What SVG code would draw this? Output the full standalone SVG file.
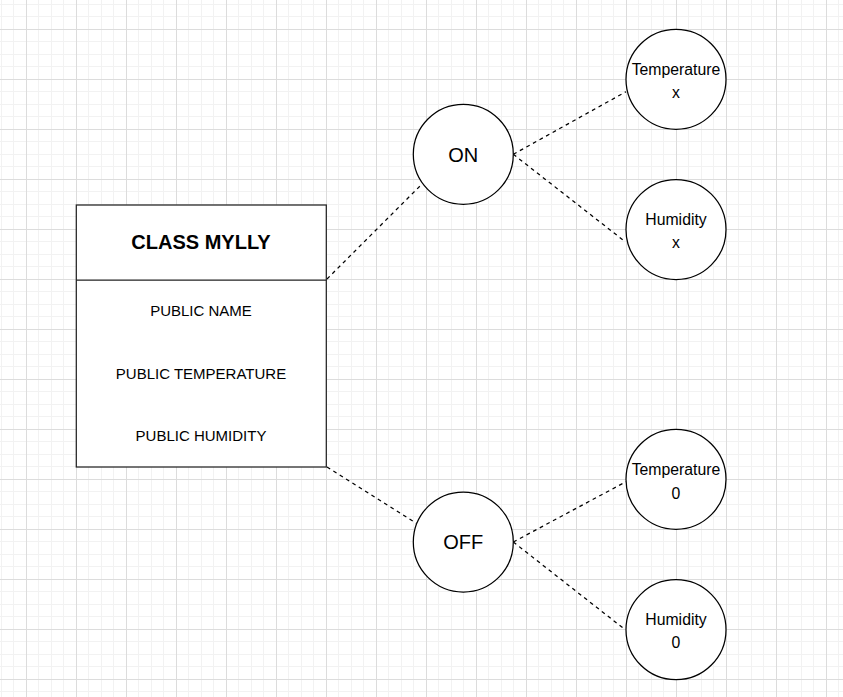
<svg xmlns="http://www.w3.org/2000/svg" width="843" height="697" viewBox="0 0 843 697">
<defs>
<pattern id="grid" patternUnits="userSpaceOnUse" x="26" y="29" width="50" height="50">
<rect x="12" y="0" width="1" height="50" fill="#f2f2f2"/>
<rect x="25" y="0" width="1" height="50" fill="#f2f2f2"/>
<rect x="37" y="0" width="1" height="50" fill="#f2f2f2"/>
<rect x="0" y="12" width="50" height="1" fill="#f2f2f2"/>
<rect x="0" y="25" width="50" height="1" fill="#f2f2f2"/>
<rect x="0" y="37" width="50" height="1" fill="#f2f2f2"/>
<rect x="0" y="0" width="1" height="50" fill="#dcdcdc"/>
<rect x="0" y="0" width="50" height="1" fill="#dcdcdc"/>
</pattern>
</defs>
<style>
.shape{fill:#fff;stroke:#000;stroke-width:1.25}
.box{fill:#fff;stroke:#222;stroke-width:1.25}
.edge{fill:none;stroke:#000;stroke-width:1.25;stroke-dasharray:3.75 3.75}
text{font-family:"Liberation Sans",Arial,sans-serif;fill:#000;text-anchor:middle}
.title{font-size:20px;font-weight:bold}
.field{font-size:15px}
.big{font-size:20px}
.small{font-size:15.8px}
</style>
<rect width="843" height="697" fill="#fff"/>
<rect width="843" height="697" fill="url(#grid)"/>
<g id="connectors">
<line class="edge" x1="327" y1="279" x2="420" y2="186"/>
<line class="edge" x1="513.3" y1="154.3" x2="626" y2="91.7"/>
<line class="edge" x1="513.3" y1="154.3" x2="623" y2="240"/>
<line class="edge" x1="327" y1="467" x2="416.5" y2="523.3"/>
<line class="edge" x1="513.3" y1="542" x2="626" y2="481.7"/>
<line class="edge" x1="513.3" y1="542" x2="623" y2="628"/>
</g>
<g id="class-mylly">
<rect class="box" x="76.3" y="205" width="250" height="262"/>
<line class="box" x1="76.3" y1="280" x2="326.3" y2="280"/>
<text class="title" x="201" y="249">CLASS MYLLY</text>
<text class="field" x="201" y="316">PUBLIC NAME</text>
<text class="field" x="201" y="379">PUBLIC TEMPERATURE</text>
<text class="field" x="201" y="441">PUBLIC HUMIDITY</text>
</g>
<g id="on">
<circle class="shape" cx="463.3" cy="154.3" r="50"/>
<text class="big" x="463.3" y="162">ON</text>
</g>
<g id="off">
<circle class="shape" cx="463.3" cy="542" r="50"/>
<text class="big" x="463.3" y="549">OFF</text>
</g>
<g id="on-temperature">
<circle class="shape" cx="676" cy="79.3" r="50"/>
<text class="small" x="676" y="75">Temperature</text>
<text class="small" x="676" y="98.3">x</text>
</g>
<g id="on-humidity">
<circle class="shape" cx="676" cy="229.5" r="50"/>
<text class="small" x="676" y="225">Humidity</text>
<text class="small" x="676" y="248.3">x</text>
</g>
<g id="off-temperature">
<circle class="shape" cx="676" cy="479.3" r="50"/>
<text class="small" x="676" y="475">Temperature</text>
<text class="small" x="676" y="499">0</text>
</g>
<g id="off-humidity">
<circle class="shape" cx="676" cy="629.7" r="50"/>
<text class="small" x="676" y="625">Humidity</text>
<text class="small" x="676" y="648.3">0</text>
</g>
</svg>
